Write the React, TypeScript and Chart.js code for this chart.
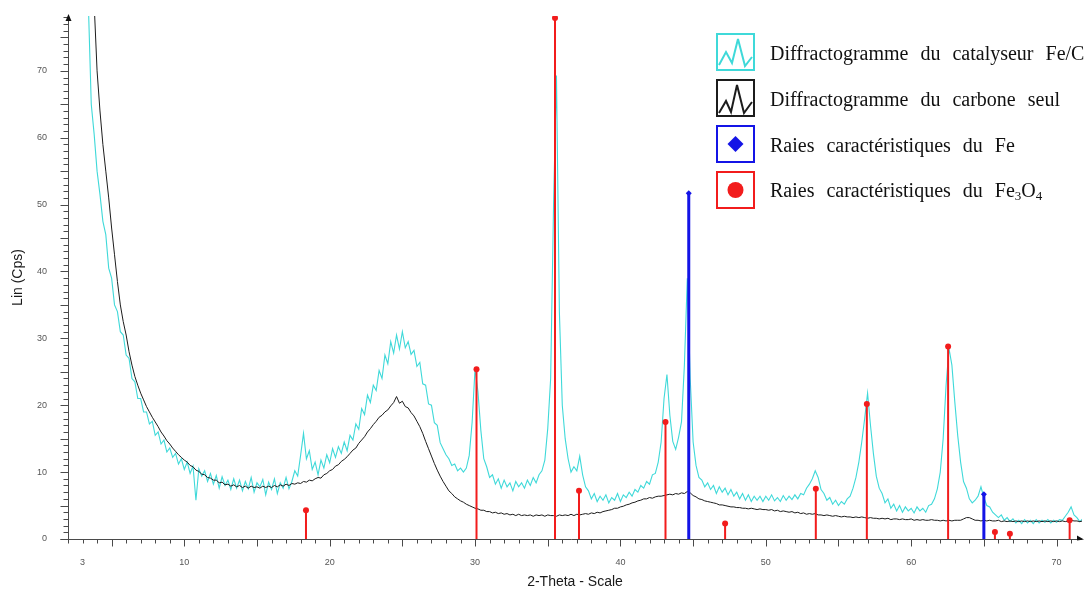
import React, { useEffect, useRef } from "react";
import { Chart, registerables } from "chart.js";

Chart.register(...registerables);

// 2-Theta sampling of the digitised diffractograms
const TWO_THETA_STEP = 0.2;

// Diffractogramme du catalyseur Fe/C (Lin, Cps) starting at 2θ = 3.4
const CATALYST_START = 3.4;
const CATALYST_COUNTS = [
  80, 65, 60.5, 55, 51.5, 47.5, 45.5, 40.5, 39, 35,
  34, 31, 30.5, 27.5, 27, 24, 23.5, 21, 21, 19,
  19, 17.2, 17.6, 15.5, 16, 14.2, 14.8, 13, 13.6, 12.2,
  12.8, 11.2, 12, 10.4, 11.5, 9.8, 10.9, 5.8, 10.5, 9.4,
  10.2, 8.6, 9.8, 8.2, 9.5, 7.6, 9.3, 8.0, 8.8, 7.4,
  9.0, 7.6, 8.8, 7.2, 8.6, 7.5, 9.2, 7.0, 8.4, 7.8,
  8.9, 6.6, 8.5, 7.4, 9.0, 6.8, 8.4, 7.6, 9.2, 7.5,
  8.6, 10.2, 9.4, 12.5, 15.8, 12.0, 13.2, 10.4, 11.5, 9.6,
  11.8, 10.6, 12.6, 11.4, 13.5, 12.2, 13.8, 12.8, 14.5, 13.2,
  15.5, 14.8, 17.2, 16.4, 19.5, 18.6, 21.5, 20.4, 23, 22.2,
  25.2, 24, 27.5, 26.2, 29.5, 27.8, 30.5, 28.4, 31, 28.6,
  29.5, 27.6, 28.2, 25.8, 26.4, 23.2, 23, 20.2, 20.0, 17.4,
  17.0, 14.4, 13.5, 12.6, 12.0, 11.0, 11.2, 10.2, 10.6, 10.0,
  10.6, 12.5, 17.5, 25.5, 22.0, 16.2, 12.0, 10.8, 9.2, 9.6,
  8.2, 9.0, 7.6, 8.8, 7.8, 8.4, 7.2, 8.6, 7.8, 8.4,
  7.6, 8.8, 8.0, 9.2, 8.4, 9.6, 10.2, 11.8, 16.5, 24,
  50, 69.3, 34, 20, 15, 12, 10, 10.8, 10.2, 12.4,
  9.6, 7.8, 7.2, 6.0, 6.8, 5.6, 6.4, 5.8, 6.6, 5.4,
  6.2, 5.8, 6.8, 5.6, 6.6, 6.2, 7.0, 6.4, 7.4, 7.0,
  8.0, 7.6, 8.6, 8.2, 9.6, 9.8, 11.5, 14.5, 21, 24.6,
  18.5, 14.6, 13.4, 15.2, 17.5, 26, 39, 24, 14.5, 11,
  9.2, 8.8, 7.8, 8.4, 7.4, 8.0, 6.8, 7.8, 7.0, 7.6,
  6.6, 7.4, 6.4, 7.0, 6.0, 6.8, 5.8, 6.6, 5.6, 6.4,
  5.8, 6.4, 5.6, 6.4, 5.8, 6.6, 5.7, 6.2, 5.6, 6.5,
  5.8, 6.4, 5.9, 6.6, 6.0, 6.8, 6.6, 7.6, 8.2, 9.0,
  10.2, 9.2, 7.4, 6.8, 5.8, 6.2, 5.2, 5.8, 5.0, 5.6,
  5.2, 6.0, 6.4, 7.6, 9.2, 11.5, 14.5, 18, 21.8, 17.0,
  12.8, 9.4, 7.6, 6.8, 5.4, 6.0, 4.6, 5.2, 4.2, 5.0,
  4.0, 4.8, 4.2, 4.6, 3.9, 4.8, 4.2, 4.6, 4.0, 5.0,
  5.2, 6.0, 7.5, 10, 15, 23, 28.5, 26, 20.5, 15.5,
  11.5, 8.6, 7.6, 6.0, 5.4, 5.8, 6.4, 7.8, 6.2, 5.0,
  4.8, 4.0, 3.6, 3.2, 3.6, 2.8, 3.2, 2.6, 3.0, 2.4,
  2.8, 2.3, 2.9, 2.4, 2.8, 2.3, 2.9, 2.4, 2.8, 2.5,
  2.9, 2.4, 2.8, 2.5, 2.9, 2.8, 3.4, 4.0, 4.8, 3.6,
  3.2, 2.6, 3.0,
];

// Diffractogramme du carbone seul (Lin, Cps) starting at 2θ = 3.8
const CARBON_START = 3.8;
const CARBON_COUNTS = [
  80, 70, 64, 59, 55, 51, 46.5, 42.5, 38.5, 35,
  32.5, 30.5, 28, 26, 24.3, 23, 21.8, 20.8, 19.8, 19.0,
  18.2, 17.5, 16.8, 16, 15.4, 14.7, 14.2, 13.6, 13.1, 12.6,
  12.2, 11.8, 11.5, 11.0, 10.8, 10.3, 10.1, 9.7, 9.6, 9.2,
  9.1, 8.8, 8.8, 8.4, 8.5, 8.1, 8.2, 7.9, 8.1, 7.8,
  8.0, 7.7, 7.9, 7.6, 7.9, 7.7, 7.8, 7.6, 7.9, 7.7,
  7.9, 7.7, 8.0, 7.8, 8.1, 7.9, 8.2, 8.0, 8.3, 8.2,
  8.4, 8.3, 8.6, 8.5, 8.8, 8.7, 9.0, 9.2, 9.1, 9.6,
  9.8, 10.2, 10.4, 10.9, 11.1, 11.6, 11.9, 12.3, 12.8, 13.3,
  13.6, 14.3, 14.8, 15.3, 16.0, 16.5, 17.1, 17.6, 18.2, 18.5,
  19.0, 19.3, 19.9, 20.4, 21.3, 20.3, 20.6, 19.8, 19.6, 18.9,
  18.4, 17.6, 16.8, 15.8, 14.6, 13.5, 12.4, 11.3, 10.3, 9.4,
  8.6, 7.9, 7.2, 6.8, 6.3, 6.0, 5.7, 5.5, 5.2, 5.0,
  4.8, 4.6, 4.5, 4.3, 4.3, 4.1, 4.1, 3.9, 4.0, 3.8,
  3.9, 3.7, 3.8, 3.6, 3.7, 3.5, 3.7, 3.5, 3.6, 3.5,
  3.6, 3.4, 3.6, 3.5, 3.6, 3.4, 3.6, 3.5, 3.5, 3.4,
  3.6, 3.5, 3.6, 3.5, 3.7, 3.5, 3.7, 3.6, 3.7, 3.8,
  3.7, 3.9, 3.8, 4.0, 3.9, 4.1, 4.2, 4.3, 4.4, 4.6,
  4.6, 4.8, 4.9, 5.1, 5.2, 5.4, 5.5, 5.7, 5.8, 6.0,
  6.0, 6.2, 6.1, 6.3, 6.4, 6.4, 6.5, 6.6, 6.7, 6.6,
  6.8, 6.7, 6.9, 6.8, 7.1, 6.9, 6.5, 6.3, 6.0, 5.9,
  5.7, 5.6, 5.5, 5.4, 5.3, 5.1, 5.1, 5.0, 4.9, 4.8,
  4.8, 4.7, 4.7, 4.6, 4.6, 4.5, 4.6, 4.5, 4.4, 4.5,
  4.4, 4.4, 4.3, 4.4, 4.2, 4.3, 4.1, 4.2, 4.1, 4.0,
  4.1, 3.9, 4.0, 3.8, 3.9, 3.7, 3.8, 3.7, 3.8, 3.6,
  3.6, 3.5, 3.6, 3.5, 3.4, 3.5, 3.4, 3.3, 3.4, 3.3,
  3.3, 3.2, 3.3, 3.2, 3.3, 3.2, 3.1, 3.2, 3.1, 3.1,
  3.0, 3.1, 3.0, 3.1, 2.9, 3.0, 3.0, 2.9, 3.0, 2.9,
  2.9, 3.0, 2.8, 2.9, 2.8, 2.9, 2.8, 2.8, 2.9, 2.8,
  2.8, 2.7, 2.8, 2.7, 2.8, 2.7, 2.8, 2.8, 2.8, 3.0,
  3.2, 3.2, 3.0, 2.8, 2.8, 2.7, 2.8, 2.7, 2.8, 2.7,
  2.7, 2.8, 2.6, 2.7, 2.6, 2.7, 2.6, 2.7, 2.6, 2.7,
  2.6, 2.7, 2.6, 2.7, 2.6, 2.7, 2.6, 2.7, 2.6, 2.7,
  2.6, 2.7, 2.6, 2.7, 2.6, 2.7, 2.8, 2.7, 2.7, 2.6,
  2.7,
];

// Raies caractéristiques du Fe3O4
const FE3O4_POSITIONS = [18.37, 30.1, 35.5, 37.15, 43.1, 47.2, 53.44, 56.95, 62.54, 65.76, 66.79, 70.9];
const FE3O4_HEIGHTS = [4.3, 25.4, 77.9, 7.2, 17.5, 2.3, 7.5, 20.2, 28.8, 1.05, 0.8, 2.8];

// Raies caractéristiques du Fe
const FE_POSITIONS = [44.7, 65.0];
const FE_HEIGHTS = [51.7, 6.7];

const X_TICK_LABELS = [3, 10, 20, 30, 40, 50, 60, 70];
const Y_TICK_LABELS = [0, 10, 20, 30, 40, 50, 60, 70];

const X_MIN = 2;
const X_MAX = 71.75;
const Y_MIN = 0;
const Y_MAX = 78.2;

const CYAN = "#3fd9d9";
const BLACK = "#1c1c1c";
const RED = "#f21c1c";
const BLUE = "#1414e6";

function toPoints(start: number, values: number[]) {
  return values.map((y, i) => ({ x: +(start + i * TWO_THETA_STEP).toFixed(2), y }));
}

function stickPoints(positions: number[], heights: number[]) {
  const out: { x: number; y: number | null }[] = [];
  positions.forEach((p, i) => {
    out.push({ x: p, y: 0 }, { x: p, y: heights[i] }, { x: p, y: null });
  });
  return out;
}

const axisDecor = {
  id: "axisDecor",
  afterDatasetsDraw(chart: any) {
    const { ctx, chartArea, scales } = chart;
    const { left, right, top, bottom } = chartArea;
    const x = scales.x;
    const y = scales.y;
    ctx.save();
    ctx.strokeStyle = "#4a4a4a";
    ctx.lineWidth = 1;
    ctx.beginPath();
    const by = Math.round(bottom) + 0.5;
    const lx = Math.round(left) + 0.5;
    ctx.moveTo(lx - 8, by);
    ctx.lineTo(right, by);
    ctx.moveTo(lx, by);
    ctx.lineTo(lx, top);
    for (let v = Math.ceil(x.min); v <= x.max; v++) {
      const px = Math.round(x.getPixelForValue(v)) + 0.5;
      const len = v % 5 === 0 ? 7 : 4;
      ctx.moveTo(px, by);
      ctx.lineTo(px, by + len);
    }
    for (let v = 0; v <= y.max; v++) {
      const py = Math.round(y.getPixelForValue(v)) + 0.5;
      const len = v % 5 === 0 ? 8 : 5;
      ctx.moveTo(lx, py);
      ctx.lineTo(lx - len, py);
    }
    ctx.stroke();
    ctx.fillStyle = "#111";
    ctx.beginPath();
    ctx.moveTo(right + 2, by);
    ctx.lineTo(right - 5, by - 4);
    ctx.lineTo(right - 5, by + 1);
    ctx.closePath();
    ctx.fill();
    ctx.beginPath();
    ctx.moveTo(lx, top - 2);
    ctx.lineTo(lx - 3, top + 5);
    ctx.lineTo(lx + 3, top + 5);
    ctx.closePath();
    ctx.fill();
    ctx.restore();
  },
};

const LEGEND_ITEMS = [
  { key: "cat", color: CYAN, icon: "wave1" },
  { key: "carb", color: BLACK, icon: "wave2" },
  { key: "fe", color: BLUE, icon: "diamond" },
  { key: "feo", color: RED, icon: "dot" },
];

function LegendIcon({ color, icon }: { color: string; icon: string }) {
  if (icon === "wave1") {
    return (
      <svg width="35" height="34" viewBox="0 0 35 34">
        <polyline points="1,30 8,17 14,28 20,4 27,31 34,22" fill="none" stroke={color} strokeWidth="2" />
      </svg>
    );
  }
  if (icon === "wave2") {
    return (
      <svg width="35" height="34" viewBox="0 0 35 34">
        <polyline points="1,32 8,20 13,31 19,4 26,32 34,21" fill="none" stroke={color} strokeWidth="2" />
      </svg>
    );
  }
  if (icon === "diamond") {
    return (
      <svg width="35" height="34" viewBox="0 0 35 34">
        <polygon points="17.5,9 25.5,17 17.5,25 9.5,17" fill={color} />
      </svg>
    );
  }
  return (
    <svg width="35" height="34" viewBox="0 0 35 34">
      <circle cx="17.5" cy="17" r="8" fill={color} />
    </svg>
  );
}

function LegendLabel({ k }: { k: string }) {
  if (k === "cat") return <span>Diffractogramme du catalyseur Fe/C</span>;
  if (k === "carb") return <span>Diffractogramme du carbone seul</span>;
  if (k === "fe") return <span>Raies caractéristiques du Fe</span>;
  return (
    <span>
      Raies caractéristiques du Fe<sub style={{ fontSize: "0.65em", verticalAlign: "-0.25em" }}>3</sub>O
      <sub style={{ fontSize: "0.65em", verticalAlign: "-0.25em" }}>4</sub>
    </span>
  );
}

export default function App() {
  const canvasRef = useRef<HTMLCanvasElement | null>(null);

  useEffect(() => {
    const canvas = canvasRef.current;
    if (!canvas) return;
    const chart = new Chart(canvas, {
      type: "line",
      data: {
        datasets: [
          {
            label: "Fe3O4",
            data: stickPoints(FE3O4_POSITIONS, FE3O4_HEIGHTS),
            borderColor: RED,
            backgroundColor: RED,
            borderWidth: 2,
            pointRadius: (c: any) => (c.dataIndex % 3 === 1 ? 3 : 0),
            pointBorderWidth: 0,
            pointStyle: "circle",
            spanGaps: false,
            tension: 0,
          },
          {
            label: "Fe",
            data: stickPoints(FE_POSITIONS, FE_HEIGHTS),
            borderColor: BLUE,
            backgroundColor: BLUE,
            borderWidth: 3,
            pointRadius: (c: any) => (c.dataIndex % 3 === 1 ? 3 : 0),
            pointBorderWidth: 0,
            pointStyle: "rectRot",
            spanGaps: false,
            tension: 0,
          },
          {
            label: "Carbone",
            data: toPoints(CARBON_START, CARBON_COUNTS),
            borderColor: BLACK,
            borderWidth: 1,
            pointRadius: 0,
            tension: 0,
          },
          {
            label: "Catalyseur",
            data: toPoints(CATALYST_START, CATALYST_COUNTS),
            borderColor: CYAN,
            borderWidth: 1.1,
            pointRadius: 0,
            tension: 0,
          },
        ],
      },
      options: {
        responsive: false,
        animation: false,
        events: [],
        layout: { padding: { left: 0, right: 8, top: 16, bottom: 0 } },
        plugins: {
          legend: { display: false },
          tooltip: { enabled: false },
        },
        scales: {
          x: {
            type: "linear",
            min: X_MIN,
            max: X_MAX,
            offset: false,
            grid: { display: false },
            border: { display: false },
            afterBuildTicks: (s: any) => {
              s.ticks = X_TICK_LABELS.map((v) => ({ value: v }));
            },
            afterFit: (s: any) => {
              s.height = 52;
              s.paddingLeft = 0;
              s.paddingRight = 0;
            },
            ticks: {
              autoSkip: false,
              maxRotation: 0,
              padding: 10,
              color: "#555",
              font: { family: "'Liberation Sans', Arial, sans-serif", size: 9 },
            },
            title: {
              display: true,
              text: "2-Theta - Scale",
              color: "#1a1a1a",
              padding: { top: 0, bottom: 0 },
              font: { family: "'Liberation Sans', Arial, sans-serif", size: 14 },
            },
          },
          y: {
            type: "linear",
            min: Y_MIN,
            max: Y_MAX,
            grid: { display: false },
            border: { display: false },
            afterBuildTicks: (s: any) => {
              s.ticks = Y_TICK_LABELS.map((v) => ({ value: v }));
            },
            afterFit: (s: any) => {
              s.width = 68;
              s.paddingTop = 0;
              s.paddingBottom = 0;
            },
            ticks: {
              autoSkip: false,
              padding: 13,
              color: "#555",
              font: { family: "'Liberation Sans', Arial, sans-serif", size: 9 },
            },
            title: {
              display: true,
              text: "Lin (Cps)",
              color: "#1a1a1a",
              padding: { top: 10, bottom: 0 },
              font: { family: "'Liberation Sans', Arial, sans-serif", size: 14 },
            },
          },
        },
      },
      plugins: [axisDecor],
    } as any);
    return () => chart.destroy();
  }, []);

  return (
    <div style={{ position: "fixed", left: 0, top: 0, width: 1090, height: 591, background: "#fff" }}>
      <canvas ref={canvasRef} width={1090} height={591} style={{ width: 1090, height: 591, display: "block" }} />
      <div style={{ position: "absolute", left: 716, top: 33 }}>
        {LEGEND_ITEMS.map((it) => (
          <div key={it.key} style={{ display: "flex", alignItems: "center", height: 38, marginBottom: 8 }}>
            <div
              style={{
                boxSizing: "border-box",
                width: 39,
                height: 38,
                border: `2px solid ${it.color}`,
                display: "flex",
                alignItems: "center",
                justifyContent: "center",
                background: "#fff",
              }}
            >
              <LegendIcon color={it.color} icon={it.icon} />
            </div>
            <div
              style={{
                marginLeft: 15,
                paddingTop: 3,
                fontFamily: "'Liberation Serif', 'Times New Roman', serif",
                fontSize: 20,
                color: "#111",
                whiteSpace: "nowrap",
                wordSpacing: 7,
              }}
            >
              <LegendLabel k={it.key} />
            </div>
          </div>
        ))}
      </div>
    </div>
  );
}
